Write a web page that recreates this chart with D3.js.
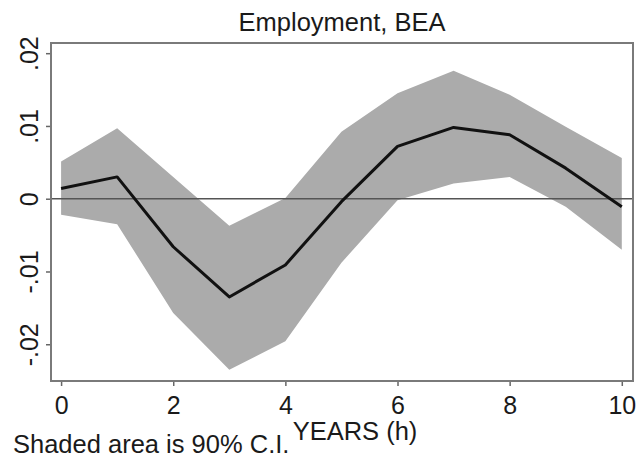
<!DOCTYPE html>
<html>
<head>
<meta charset="utf-8">
<script src="https://cdn.jsdelivr.net/npm/d3@7"></script>
<style>
  body { margin: 0; background: #fff; }
  svg text { font-family: "Liberation Sans", Arial, sans-serif; fill: #1a1a1a; }
</style>
</head>
<body>
<svg id="mainsvg" width="642" height="458"></svg>
<script>
// data
const years = [0, 1, 2, 3, 4, 5, 6, 7, 8, 9, 10];
const estimate = [0.0014, 0.0030, -0.0066, -0.0135, -0.0091, -0.0004, 0.0072, 0.0098, 0.0088, 0.0042, -0.0011];
const upper = [0.0051, 0.0097, 0.0030, -0.0037, 0.0001, 0.0092, 0.0145, 0.0176, 0.0143, 0.0099, 0.0056];
const lower = [-0.0022, -0.0035, -0.0157, -0.0235, -0.0196, -0.0088, -0.0002, 0.0021, 0.0030, -0.0011, -0.0070];
const xTicks = [0, 2, 4, 6, 8, 10];
const yTicks = [0.02, 0.01, 0, -0.01, -0.02];
const yTickLabels = ['.02', '.01', '0', '-.01', '-.02'];

const svg = d3.select('#mainsvg');
const margin = {top: 43, right: 9, bottom: 77, left: 51};
const width = +svg.attr('width');
const height = +svg.attr('height');
const innerWidth = width - margin.left - margin.right;
const innerHeight = height - margin.top - margin.bottom;

const data = years.map((h, i) => ({h: h, est: estimate[i], lo: lower[i], hi: upper[i]}));

const g = svg.append('g').attr('transform', `translate(${margin.left}, ${margin.top})`);

const xScale = d3.scaleLinear().domain([-0.18, 10.2]).range([0, innerWidth]);
const yScale = d3.scaleLinear().domain([-0.02505, 0.0214]).range([innerHeight, 0]);

// confidence band
const area = d3.area()
  .x(d => xScale(d.h))
  .y0(d => yScale(d.lo))
  .y1(d => yScale(d.hi));
g.append('path').datum(data)
  .attr('d', area)
  .attr('fill', '#ababab');

// zero line
g.append('line')
  .attr('x1', 0).attr('x2', innerWidth)
  .attr('y1', yScale(0)).attr('y2', yScale(0))
  .attr('stroke', '#555').attr('stroke-width', 1.5);

// point estimate
const line = d3.line().x(d => xScale(d.h)).y(d => yScale(d.est));
g.append('path').datum(data)
  .attr('d', line)
  .attr('fill', 'none')
  .attr('stroke', '#111')
  .attr('stroke-width', 3)
  .attr('stroke-linejoin', 'round');

// frame
g.append('rect')
  .attr('x', 0).attr('y', 0)
  .attr('width', innerWidth).attr('height', innerHeight)
  .attr('fill', 'none').attr('stroke', '#7a7a7a').attr('stroke-width', 2);

// x axis
const xAxis = g.append('g')
  .attr('transform', `translate(0, ${innerHeight})`)
  .call(d3.axisBottom(xScale).tickValues(xTicks).tickSize(5).tickPadding(10).tickFormat(d3.format('d')));
xAxis.select('.domain').remove();
xAxis.selectAll('line').attr('stroke', '#666').attr('stroke-width', 1.5).attr('y1', 1);
xAxis.selectAll('text').style('font-size', '25px').attr('fill', '#1a1a1a');

// y axis
const yAxis = g.append('g')
  .call(d3.axisLeft(yScale).tickValues(yTicks).tickSize(5).tickFormat((d, i) => yTickLabels[i]));
yAxis.select('.domain').remove();
yAxis.selectAll('line').attr('stroke', '#666').attr('stroke-width', 1.5).attr('x1', -1);
yAxis.selectAll('text')
  .attr('x', null).attr('dy', null)
  .attr('transform', 'translate(-13, 0) rotate(-90)')
  .attr('text-anchor', 'middle')
  .style('font-size', '25px')
  .attr('fill', '#1a1a1a');

// title and labels
svg.append('text')
  .attr('x', margin.left + innerWidth / 2)
  .attr('y', 31)
  .attr('text-anchor', 'middle')
  .style('font-size', '25.5px')
  .text('Employment, BEA');

svg.append('text')
  .attr('x', 355)
  .attr('y', 440)
  .attr('text-anchor', 'middle')
  .style('font-size', '25.5px')
  .text('YEARS (h)');

svg.append('text')
  .attr('x', 13)
  .attr('y', 453)
  .style('font-size', '25.5px')
  .text('Shaded area is 90% C.I.');
</script>
</body>
</html>
